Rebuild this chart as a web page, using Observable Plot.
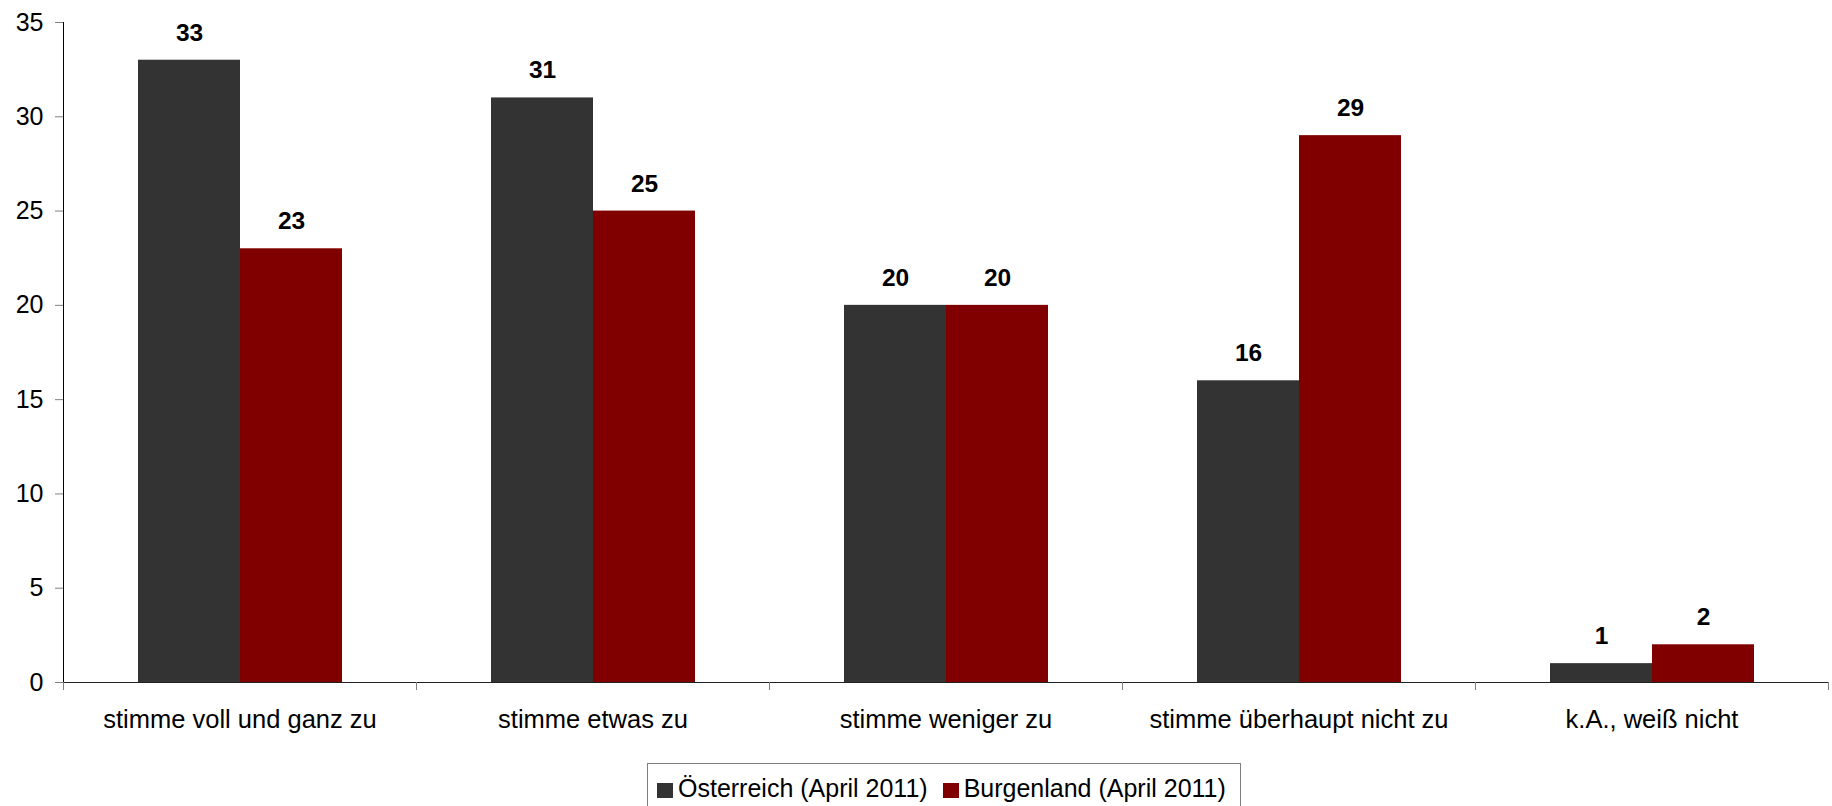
<!DOCTYPE html>
<html>
<head>
<meta charset="utf-8">
<script src="https://cdn.jsdelivr.net/npm/d3@7"></script>
<script src="https://cdn.jsdelivr.net/npm/@observablehq/plot@0.6"></script>
<style>
  html, body { margin: 0; padding: 0; background: #fff; }
  body { width: 1832px; height: 806px; position: relative; overflow: hidden; font-family: "Liberation Sans", Arial, sans-serif; }
  #legend { position: absolute; left: 647px; top: 763px; width: 594px; height: 50px; border: 1px solid #808080; box-sizing: border-box; display: flex; align-items: flex-start; padding-left: 9px; padding-top: 10px; white-space: nowrap; }
  #legend .item { display: flex; align-items: center; margin-right: 15px; }
  #legend .sw { width: 16px; height: 15px; margin-right: 5px; margin-top: 5px; }
  #legend .lbl { font-size: 25px; line-height: 28px; color: #000; }
</style>
</head>
<body>
<div id="chart"></div>
<div id="legend"></div>
<script>
const categories = ["stimme voll und ganz zu", "stimme etwas zu", "stimme weniger zu", "stimme überhaupt nicht zu", "k.A., weiß nicht"];
const series = ["Österreich (April 2011)", "Burgenland (April 2011)"];
const oesterreich = [33, 31, 20, 16, 1];
const burgenland = [23, 25, 20, 29, 2];
const colors = ["#333333", "#800000"];
const yTicks = [0, 5, 10, 15, 20, 25, 30, 35];

const data = [];
categories.forEach((c, i) => {
  data.push({category: c, series: series[0], value: oesterreich[i]});
  data.push({category: c, series: series[1], value: burgenland[i]});
});

const W = 1832, H = 760;
const mL = 63, mR = 4, mT = 22, mB = 78;
const band = (W - mL - mR) / categories.length;

const chart = Plot.plot({
  width: W,
  height: H,
  marginLeft: mL,
  marginRight: mR,
  marginTop: mT,
  marginBottom: mB,
  style: {fontFamily: "Liberation Sans, Arial, sans-serif", background: "#fff", color: "#000"},
  fx: {domain: categories, padding: 0, label: null},
  x: {domain: series, paddingInner: 0, paddingOuter: 0.73, axis: null},
  y: {domain: [0, 35], label: null},
  color: {domain: series, range: colors},
  marks: [
    Plot.barY(data, {fx: "category", x: "series", y: "value", fill: "series"}),
    Plot.text(data, {fx: "category", x: "series", y: "value", text: d => String(d.value), lineAnchor: "bottom", dy: -19.5, fontWeight: "bold", fontSize: 24.5, fill: "#000"}),
    Plot.ruleY([0], {stroke: "#222", strokeWidth: 1.2}),
    Plot.frame({anchor: "left", facetAnchor: "left", stroke: "#000"}),
    Plot.axisY({ticks: yTicks, tickSize: 8, tickPadding: 12, fontSize: 25, stroke: "#808080", fill: "#000", label: null, tickFormat: d => String(d)}),
    Plot.axisFx({anchor: "bottom", tickSize: 0, tickPadding: 27, fontSize: 25.5, fill: "#000", label: null}),
    Plot.axisFx({anchor: "bottom", text: null, tickSize: 8, dx: -band / 2, stroke: "#808080", label: null}),
    Plot.axisFx({anchor: "bottom", text: null, ticks: [categories[categories.length - 1]], tickSize: 8, dx: band / 2, stroke: "#808080", label: null})
  ]
});
document.getElementById("chart").appendChild(chart);

const legend = d3.select("#legend");
series.forEach((s, i) => {
  const item = legend.append("div").attr("class", "item");
  item.append("div").attr("class", "sw").style("background", colors[i]);
  item.append("span").attr("class", "lbl").text(s);
});
</script>
</body>
</html>
